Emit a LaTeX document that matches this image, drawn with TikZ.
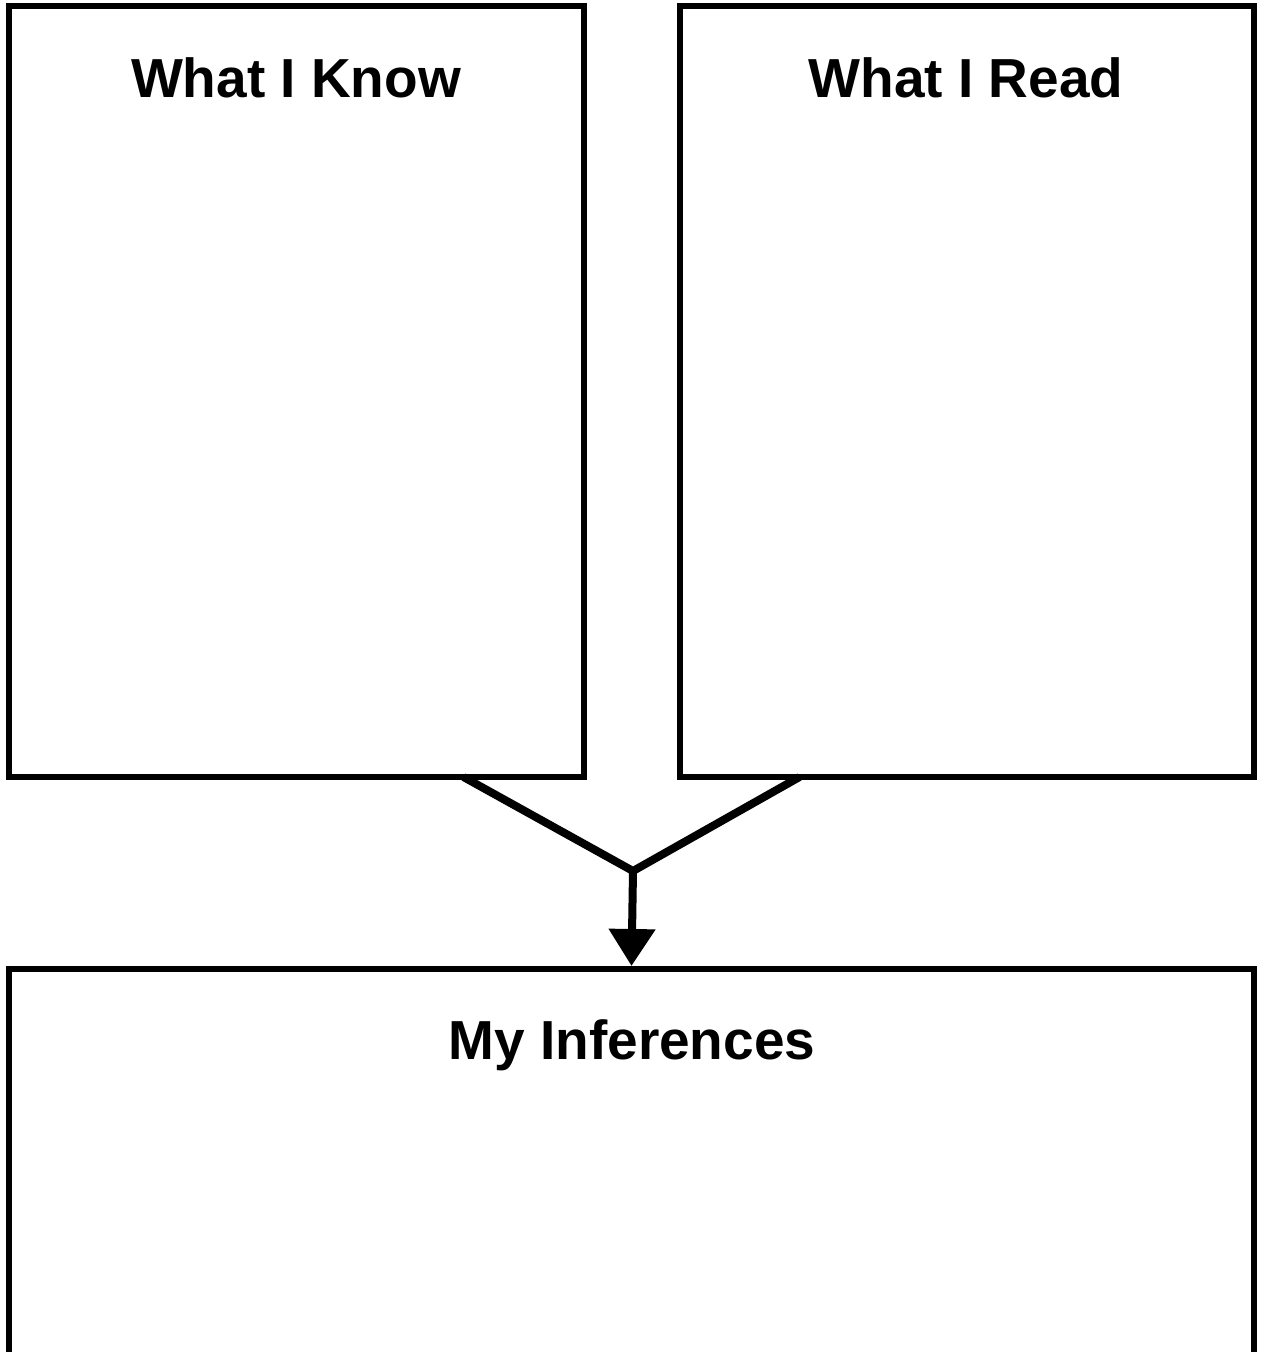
\documentclass[tikz,border=0pt]{standalone}
\usepackage{fontspec}
\setmainfont{Liberation Sans}
\usetikzlibrary{arrows.meta,calc}
\tikzset{
  box/.style={draw=black, line width=6pt, fill=white, inner sep=0pt},
  title/.style={anchor=base, font=\fontsize{55}{60}\selectfont\bfseries, inner sep=0pt},
  conn/.style={line width=8pt, line join=miter, line cap=butt},
}
\begin{document}
\begin{tikzpicture}[x=1pt,y=-1pt]
\useasboundingbox (0,0) rectangle (1263,1352);
\clip (0,0) rectangle (1263,1352);
\fill[white] (0,0) rectangle (1263,1352);
\node[box, minimum width=574.5pt, minimum height=771pt] (know) at (296.25,391.5) {};
\node[box, minimum width=574.5pt, minimum height=771pt] (read) at (966.75,391.5) {};
\node[box, minimum width=1245pt, minimum height=420pt] (inf) at (631.5,1179) {};
\node[title] (tknow) at (296,97) {What I Know};
\node[title] (tread) at (966,97) {What I Read};
\node[title] (tinf) at (632,1059) {My Inferences};
\coordinate (j) at (633,871);
\draw[conn] ($(know.south east)+(-123,-3)$) -- (j) -- ($(read.south west)+(123,-3)$);
\draw[conn, -{Triangle[width=45pt,length=37pt]}] (j) -- (inf.north);
\end{tikzpicture}
\end{document}
